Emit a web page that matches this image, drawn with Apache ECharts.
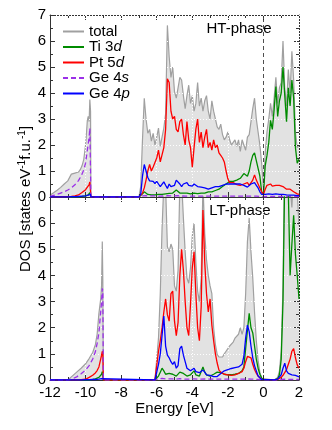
<!DOCTYPE html>
<html>
<head>
<meta charset="utf-8">
<script src="https://cdn.jsdelivr.net/npm/echarts@6/dist/echarts.min.js"></script>
<style>
html, body { margin: 0; padding: 0; background: #fff; }
#chart { width: 332px; height: 430px; }
</style>
</head>
<body>
<div id="chart"></div>
<script>
// DOS, energies in eV
var fermiLevel = 0;
var seriesNames = ['total', 'Ti 3d', 'Pt 5d', 'Ge 4s', 'Ge 4p'];
var energyTicks = [-12, -10, -8, -6, -4, -2, 0, 2];

// HT-phase (upper panel)
var htEnergy = [-12.0, -11.8, -11.6, -11.4, -11.2, -11.0, -10.8, -10.6, -10.4, -10.3, -10.2, -10.1, -10.0, -9.95, -9.9, -9.85, -9.8, -9.76, -9.72, -9.70,
    -7.0, -6.9, -6.8, -6.7, -6.6, -6.5, -6.4, -6.3, -6.2, -6.1,
    -6.0, -5.9, -5.8, -5.7, -5.6, -5.5, -5.4, -5.3, -5.2, -5.1,
    -5.0, -4.9, -4.8, -4.7, -4.6, -4.5, -4.4, -4.3, -4.2, -4.1,
    -4.0, -3.9, -3.8, -3.7, -3.6, -3.5, -3.4, -3.3, -3.2, -3.1,
    -3.0, -2.9, -2.8, -2.7, -2.6, -2.5, -2.4, -2.3, -2.2, -2.1,
    -2.0, -1.9, -1.8, -1.7, -1.6, -1.5, -1.4, -1.3, -1.2, -1.1,
    -1.0, -0.9, -0.8, -0.7, -0.6, -0.5, -0.4, -0.3, -0.2, -0.1,
    0.0, 0.1, 0.2, 0.3, 0.4, 0.5, 0.6, 0.7, 0.8, 0.9,
    1.0, 1.1, 1.2, 1.3, 1.4, 1.5, 1.6, 1.7, 1.8, 1.9,
    2.0];
var htTotal = [0.07, 0.16, 0.26, 0.37, 0.5, 0.62, 0.88, 0.92, 0.96, 1.05, 1.2, 1.45, 2.0, 2.45, 2.95, 3.1, 2.9, 3.75, 3.3, 0,
    0, 0.4, 2.2, 3.8, 3.0, 2.45, 2.6, 2.15, 2.45, 2.0,
    2.3, 2.65, 1.95, 2.3, 2.65, 3.2, 6.6, 5.4, 4.6, 5.0,
    4.05, 3.8, 4.2, 4.6, 4.5, 3.9, 3.4, 3.9, 4.3, 3.6,
    3.9, 3.3, 3.6, 4.4, 3.5, 3.8, 3.3, 3.7, 3.9, 3.3,
    3.0, 3.7, 3.3, 3.0, 2.7, 2.6, 2.8, 2.4, 2.2, 2.3,
    2.5, 2.2, 2.0, 2.1, 2.2, 1.95, 2.2, 1.75, 2.2, 2.0,
    1.8, 2.3, 2.4, 2.9, 3.4, 3.8, 3.0, 2.5, 2.0, 1.3,
    0.4, 1.7, 2.5, 3.0, 3.6, 3.1, 3.8, 4.6, 3.6, 4.2,
    4.4, 6.0, 4.2, 3.5, 4.9, 4.0, 5.6, 4.5, 2.5, 1.9,
    2.0];
var htTi3d = [0, 0, 0, 0, 0, 0, 0, 0.01, 0.01, 0.02, 0.02, 0.03, 0.04, 0.05, 0.06, 0.08, 0.1, 0.17, 0.15, 0,
    0, 0.02, 0.12, 0.2, 0.15, 0.1, 0.08, 0.08, 0.08, 0.08,
    0.1, 0.1, 0.1, 0.1, 0.12, 0.12, 0.12, 0.14, 0.15, 0.15,
    0.2, 0.27, 0.2, 0.15, 0.15, 0.15, 0.15, 0.15, 0.15, 0.12,
    0.15, 0.15, 0.13, 0.13, 0.15, 0.15, 0.13, 0.15, 0.2, 0.2,
    0.2, 0.2, 0.25, 0.25, 0.3, 0.3, 0.35, 0.4, 0.45, 0.5,
    0.55, 0.6, 0.65, 0.6, 0.62, 0.65, 0.7, 0.72, 0.75, 0.9,
    0.85, 0.8, 1.0, 1.35, 1.6, 1.7, 1.4, 1.1, 0.8, 0.2,
    0.08, 1.2, 1.6, 2.1, 2.95, 2.6, 3.35, 4.25, 3.1, 3.7,
    4.0, 5.0, 3.9, 2.9, 4.2, 3.5, 4.5, 3.8, 1.9, 1.3,
    1.45];
var htPt5d = [0, 0, 0, 0, 0.01, 0.01, 0.02, 0.04, 0.08, 0.12, 0.17, 0.22, 0.28, 0.32, 0.38, 0.42, 0.48, 0.58, 0.55, 0,
    0, 0.02, 0.15, 0.35, 0.65, 1.0, 1.25, 1.0, 1.15, 1.1,
    1.5, 1.8, 1.35, 1.3, 1.9, 2.6, 4.55, 4.4, 3.3, 3.0,
    3.1, 2.6, 2.5, 2.9, 3.0, 2.4, 2.0, 2.9, 2.2, 1.9,
    1.15, 1.9, 2.6, 3.0, 2.1, 2.5, 1.9, 2.3, 2.6, 1.9,
    2.1, 1.8, 2.2, 1.9, 2.0, 1.7, 1.6, 1.5, 1.35, 1.0,
    0.7, 0.55, 0.5, 0.55, 0.5, 0.48, 0.45, 0.45, 0.45, 0.5,
    0.5, 0.55, 0.45, 0.5, 0.65, 0.85, 0.65, 0.5, 0.35, 0.2,
    0.1, 0.3, 0.45, 0.45, 0.5, 0.42, 0.4, 0.45, 0.4, 0.45,
    0.45, 0.4, 0.35, 0.3, 0.28, 0.3, 0.25, 0.2, 0.15, 0.12,
    0.1];
var htGe4s = [0.02, 0.06, 0.1, 0.15, 0.2, 0.27, 0.35, 0.47, 0.63, 0.75, 0.88, 1.05, 1.3, 1.55, 1.8, 2.05, 2.3, 2.65, 2.6, 0,
    0, 0.01, 0.04, 0.06, 0.05, 0.04, 0.04, 0.03, 0.04, 0.03,
    0.04, 0.04, 0.03, 0.03, 0.04, 0.04, 0.05, 0.05, 0.04, 0.04,
    0.04, 0.05, 0.05, 0.04, 0.04, 0.04, 0.03, 0.04, 0.04, 0.03,
    0.03, 0.04, 0.03, 0.03, 0.03, 0.03, 0.03, 0.03, 0.03, 0.03,
    0.03, 0.03, 0.03, 0.03, 0.03, 0.03, 0.03, 0.03, 0.03, 0.03,
    0.03, 0.03, 0.03, 0.03, 0.03, 0.03, 0.03, 0.03, 0.03, 0.03,
    0.03, 0.03, 0.03, 0.03, 0.03, 0.04, 0.03, 0.03, 0.02, 0.01,
    0.01, 0.02, 0.02, 0.02, 0.02, 0.02, 0.02, 0.02, 0.02, 0.02,
    0.02, 0.02, 0.02, 0.02, 0.02, 0.02, 0.02, 0.02, 0.02, 0.02,
    0.02];
var htGe4p = [0, 0, 0, 0, 0, 0, 0.01, 0.01, 0.02, 0.02, 0.03, 0.03, 0.04, 0.05, 0.06, 0.07, 0.08, 0.1, 0.1, 0,
    0, 0.1, 0.8, 1.25, 1.0, 0.75, 0.62, 0.58, 0.6, 0.52,
    0.6, 0.5, 0.4, 0.45, 0.58, 0.45, 0.33, 0.5, 0.4, 0.38,
    0.45, 0.65, 0.72, 0.5, 0.4, 0.5, 0.45, 0.55, 0.45, 0.5,
    0.42, 0.5, 0.45, 0.4, 0.35, 0.38, 0.4, 0.35, 0.35, 0.3,
    0.3, 0.35, 0.38, 0.4, 0.35, 0.4, 0.42, 0.45, 0.48, 0.5,
    0.52, 0.5, 0.52, 0.5, 0.52, 0.5, 0.52, 0.5, 0.48, 0.45,
    0.42, 0.38, 0.35, 0.5, 0.52, 0.55, 0.45, 0.35, 0.2, 0.1,
    0.05, 0.1, 0.15, 0.12, 0.12, 0.1, 0.1, 0.12, 0.12, 0.1,
    0.1, 0.1, 0.08, 0.08, 0.07, 0.07, 0.08, 0.07, 0.05, 0.05,
    0.05];

// LT-phase (lower panel)
var ltEnergy = [-12.0, -11.0, -10.9, -10.75, -10.5, -10.25, -10.0, -9.8, -9.6, -9.45, -9.35, -9.25, -9.15, -9.1, -9.06, -9.03, -9.0,
    -6.1, -6.0, -5.9, -5.8, -5.7, -5.6, -5.5, -5.4, -5.3, -5.2,
    -5.1, -5.0, -4.9, -4.8, -4.7, -4.6, -4.5, -4.4, -4.3, -4.2,
    -4.1, -4.0, -3.9, -3.8, -3.7, -3.6, -3.5, -3.4, -3.3, -3.2,
    -3.1, -3.0, -2.9, -2.8, -2.7, -2.6, -2.5, -2.4, -2.3, -2.2,
    -2.1, -2.0, -1.9, -1.8, -1.7, -1.6, -1.5, -1.4, -1.3, -1.2,
    -1.1, -1.0, -0.9, -0.8, -0.7, -0.6, -0.5, -0.4, -0.3, -0.2,
    -0.1, 0.0,
    0.6, 0.7, 0.8, 0.9, 1.0, 1.1, 1.2, 1.3, 1.4, 1.5, 1.6, 1.7, 1.8, 1.9, 2.0];
var ltTotal = [0, 0, 0.05, 0.15, 0.3, 0.45, 0.62, 0.82, 1.05, 1.35, 1.75, 2.55, 3.1, 3.6, 5.3, 3.8, 0,
    0, 0.05, 1.6, 3.3, 5.8, 7.5, 7.4, 5.1, 4.9, 5.2,
    5.0, 3.6, 3.4, 4.2, 7.5, 7.6, 6.2, 4.9, 3.9, 3.7,
    4.3, 5.5, 6.0, 4.5, 3.4, 3.0, 3.9, 7.5, 5.6, 4.6,
    4.0, 3.6, 3.3, 2.0, 1.35, 0.98, 0.88, 0.83, 0.88, 1.0,
    1.1, 1.2, 1.3, 1.35, 1.45, 1.6, 1.65, 1.75, 2.0, 1.75,
    2.0, 3.3, 5.3, 6.2, 4.9, 3.9, 2.6, 1.5, 0.75, 0.3,
    0.06, 0,
    0, 0.02, 0.1, 0.35, 1.1, 3.6, 9.0, 9.0, 8.5, 7.4, 6.6, 8.0, 7.5, 7.2, 5.9];
var ltTi3d = [0, 0, 0, 0, 0, 0, 0, 0, 0.02, 0.04, 0.06, 0.1, 0.15, 0.22, 0.32, 0.3, 0,
    0, 0.01, 0.15, 0.3, 0.45, 0.35, 0.22, 0.2, 0.25, 0.3,
    0.22, 0.18, 0.15, 0.15, 0.3, 0.25, 0.25, 0.2, 0.15, 0.15,
    0.2, 0.25, 0.35, 0.2, 0.15, 0.15, 0.2, 0.5, 0.3, 0.2,
    0.15, 0.15, 0.18, 0.22, 0.28, 0.3, 0.3, 0.28, 0.25, 0.22,
    0.2, 0.2, 0.2, 0.2, 0.2, 0.22, 0.22, 0.25, 0.3, 0.35,
    0.5, 1.2, 1.9, 2.55, 2.0, 1.8, 1.3, 0.8, 0.45, 0.22,
    0.08, 0,
    0, 0.01, 0.05, 0.2, 0.8, 3.0, 8.0, 8.0, 7.2, 4.0, 5.2, 6.3, 4.8, 4.0, 3.1];
var ltPt5d = [0, 0, 0, 0, 0, 0.01, 0.03, 0.1, 0.18, 0.27, 0.36, 0.5, 0.8, 0.95, 1.1, 1.0, 0,
    0, 0.02, 1.1, 1.5, 2.0, 2.6, 3.1, 2.5, 2.25, 3.3,
    3.4, 2.25, 1.7, 2.2, 4.0, 5.0, 4.2, 3.0, 2.0, 1.7,
    2.9, 4.3, 4.9, 3.3, 2.0, 1.5, 2.8, 6.5, 4.5, 3.3,
    2.6, 3.1, 2.1, 1.5, 1.0, 0.65, 0.38, 0.3, 0.25, 0.22,
    0.2, 0.2, 0.2, 0.18, 0.2, 0.2, 0.22, 0.25, 0.25, 0.32,
    0.45, 0.7, 0.9, 0.96, 0.85, 0.6, 0.4, 0.26, 0.15, 0.08,
    0.02, 0,
    0, 0.01, 0.02, 0.05, 0.1, 0.18, 0.25, 0.4, 0.6, 0.8, 1.1, 1.2, 0.85, 0.58, 0.45];
var ltGe4s = [0, 0, 0.01, 0.04, 0.12, 0.24, 0.38, 0.55, 0.8, 1.08, 1.4, 1.8, 2.6, 3.0, 3.5, 3.4, 0,
    0, 0.01, 0.04, 0.05, 0.06, 0.05, 0.04, 0.04, 0.04, 0.04,
    0.04, 0.04, 0.03, 0.04, 0.05, 0.05, 0.04, 0.04, 0.03, 0.03,
    0.04, 0.04, 0.04, 0.03, 0.03, 0.03, 0.03, 0.04, 0.04, 0.03,
    0.03, 0.03, 0.03, 0.03, 0.03, 0.03, 0.03, 0.03, 0.03, 0.03,
    0.03, 0.03, 0.03, 0.03, 0.03, 0.03, 0.03, 0.03, 0.03, 0.03,
    0.03, 0.04, 0.04, 0.04, 0.03, 0.03, 0.03, 0.02, 0.02, 0.01,
    0.01, 0,
    0, 0, 0.01, 0.01, 0.02, 0.02, 0.03, 0.03, 0.02, 0.02, 0.02, 0.02, 0.02, 0.02, 0.02];
var ltGe4p = [0, 0, 0, 0, 0, 0, 0.01, 0.01, 0.02, 0.02, 0.03, 0.03, 0.04, 0.05, 0.06, 0.05, 0,
    0, 0.02, 0.6, 1.0, 1.7, 2.45, 1.3, 0.95, 0.85, 0.7,
    0.6, 0.7, 0.45, 0.55, 1.2, 1.3, 0.95, 0.7, 0.45, 0.4,
    0.35, 0.4, 0.45, 0.32, 0.3, 0.28, 0.25, 0.38, 0.3, 0.2,
    0.18, 0.18, 0.15, 0.13, 0.13, 0.13, 0.2, 0.25, 0.3, 0.35,
    0.38, 0.4, 0.42, 0.44, 0.45, 0.47, 0.5, 0.5, 0.55, 0.6,
    0.9, 1.6, 2.1, 1.85, 1.3, 0.85, 0.55, 0.35, 0.15, 0.08,
    0.02, 0,
    0, 0.01, 0.03, 0.08, 0.2, 0.45, 0.64, 0.35, 0.25, 0.2, 0.2, 0.18, 0.18, 0.15, 0.12];

var fontName = '"Liberation Sans", Arial, Helvetica, sans-serif';
var frameColor = '#333';
var colors = {
    total: '#a0a0a0',
    fill: '#e2e2e2',
    ti: '#008b00',
    pt: '#ff0000',
    s: '#9b30e8',
    p: '#0000ff'
};

function pairs(xs, ys) {
    return xs.map(function (x, i) { return [x, ys[i]]; });
}

function panelSeries(idx, energy, total, ti, pt, s, p) {
    function line(name, ys, color, width, z, extra) {
        return Object.assign({
            name: name,
            type: 'line',
            xAxisIndex: idx * 2,
            yAxisIndex: idx * 2,
            symbol: 'none',
            showSymbol: false,
            clip: true,
            z: z,
            lineStyle: { color: color, width: width },
            itemStyle: { color: color },
            data: pairs(energy, ys)
        }, extra || {});
    }
    return [
        line('total', total, colors.total, 1.2, 1, { areaStyle: { color: colors.fill, opacity: 1 } }),
        line('Ti 3d', ti, colors.ti, 1.3, 4),
        line('Pt 5d', pt, colors.pt, 1.3, 4),
        line('Ge 4s', s, colors.s, 1.3, 4, { lineStyle: { color: colors.s, width: 1.3, type: [5, 3] } }),
        line('Ge 4p', p, colors.p, 1.3, 4, {
            markLine: {
                silent: true,
                symbol: ['none', 'none'],
                label: { show: false },
                lineStyle: { color: '#222', type: [4, 3], width: 0.8 },
                data: [{ xAxis: fermiLevel }]
            }
        })
    ];
}

function xAxisFor(gi, pos, labels) {
    return {
        type: 'value', gridIndex: gi, position: pos,
        min: energyTicks[0], max: energyTicks[energyTicks.length - 1], interval: 2,
        z: pos === 'bottom' ? 3 : 2,
        axisLine: { show: true, onZero: false, lineStyle: { color: frameColor, width: 1 } },
        axisTick: { show: true, inside: true, length: 5, lineStyle: { color: frameColor } },
        minorTick: { show: true, splitNumber: 2, length: 3, lineStyle: { color: frameColor } },
        axisLabel: { show: labels, fontSize: 15, fontFamily: fontName, color: '#000', margin: 5 },
        splitLine: { show: pos === 'bottom', lineStyle: { color: '#fff', type: [1, 2], width: 1 } },
        name: labels ? 'Energy [eV]' : '',
        nameLocation: 'middle',
        nameGap: 19,
        nameTextStyle: { fontSize: 15, fontFamily: fontName, color: '#000' }
    };
}

function yAxisFor(gi, pos, hideMax) {
    return {
        type: 'value', gridIndex: gi, position: pos,
        min: 0, max: 7, interval: 1,
        z: pos === 'left' ? 3 : 2,
        axisLine: { show: true, onZero: false, lineStyle: { color: frameColor, width: 1 } },
        axisTick: { show: true, inside: true, length: 5, lineStyle: { color: frameColor } },
        minorTick: { show: true, splitNumber: 2, length: 3, lineStyle: { color: frameColor } },
        axisLabel: {
            show: pos === 'left', fontSize: 15, fontFamily: fontName, color: '#000', margin: 4,
            showMaxLabel: !hideMax
        },
        splitLine: { show: pos === 'left', lineStyle: { color: '#fff', type: [1, 2], width: 1 } }
    };
}

var chart = echarts.init(document.getElementById('chart'), null, { renderer: 'canvas' });
chart.setOption({
    animation: false,
    backgroundColor: '#fff',
    grid: [
        { left: 50, top: 15, width: 249, height: 182 },
        { left: 50, top: 197, width: 249, height: 183 }
    ],
    xAxis: [
        xAxisFor(0, 'bottom', false),
        xAxisFor(0, 'top', false),
        xAxisFor(1, 'bottom', true),
        xAxisFor(1, 'top', false)
    ],
    yAxis: [
        yAxisFor(0, 'left', false),
        yAxisFor(0, 'right', false),
        yAxisFor(1, 'left', true),
        yAxisFor(1, 'right', true)
    ],
    legend: {
        data: seriesNames,
        orient: 'vertical',
        left: 62,
        top: 24,
        itemWidth: 21,
        itemHeight: 10,
        itemGap: 0.5,
        padding: 0,
        itemStyle: { color: 'rgba(0,0,0,0)', borderWidth: 0 },
        textStyle: {
            fontSize: 15, fontFamily: fontName, color: '#000', lineHeight: 14,
            rich: {
                n: { fontSize: 15, fontFamily: fontName, color: '#000', lineHeight: 14 },
                i: { fontSize: 15, fontFamily: fontName, color: '#000', lineHeight: 14, fontStyle: 'italic' }
            }
        },
        formatter: function (name) {
            var m = name.match(/^(.*\d)([a-z])$/);
            return m ? '{n|' + m[1] + '}{i|' + m[2] + '}' : '{n|' + name + '}';
        }
    },
    graphic: [
        {
            type: 'text', x: 26, y: 199, rotation: Math.PI / 2,
            style: {
                text: '{n|DOS [states eV}{s|-1}{n|f.u.}{s|-1}{n|]}',
                align: 'center', verticalAlign: 'middle',
                rich: {
                    n: { fontSize: 15, fontFamily: fontName, fill: '#000', lineHeight: 17 },
                    s: { fontSize: 10, fontFamily: fontName, fill: '#000', lineHeight: 17, verticalAlign: 'top' }
                }
            }
        },
        {
            type: 'text', x: 239, y: 29,
            style: { text: 'HT-phase', font: '15px ' + fontName, fill: '#000', align: 'center', verticalAlign: 'middle' }
        },
        {
            type: 'text', x: 240, y: 211,
            style: { text: 'LT-phase', font: '15px ' + fontName, fill: '#000', align: 'center', verticalAlign: 'middle' }
        }
    ],
    series: panelSeries(0, htEnergy, htTotal, htTi3d, htPt5d, htGe4s, htGe4p)
        .concat(panelSeries(1, ltEnergy, ltTotal, ltTi3d, ltPt5d, ltGe4s, ltGe4p))
});
</script>
</body>
</html>
